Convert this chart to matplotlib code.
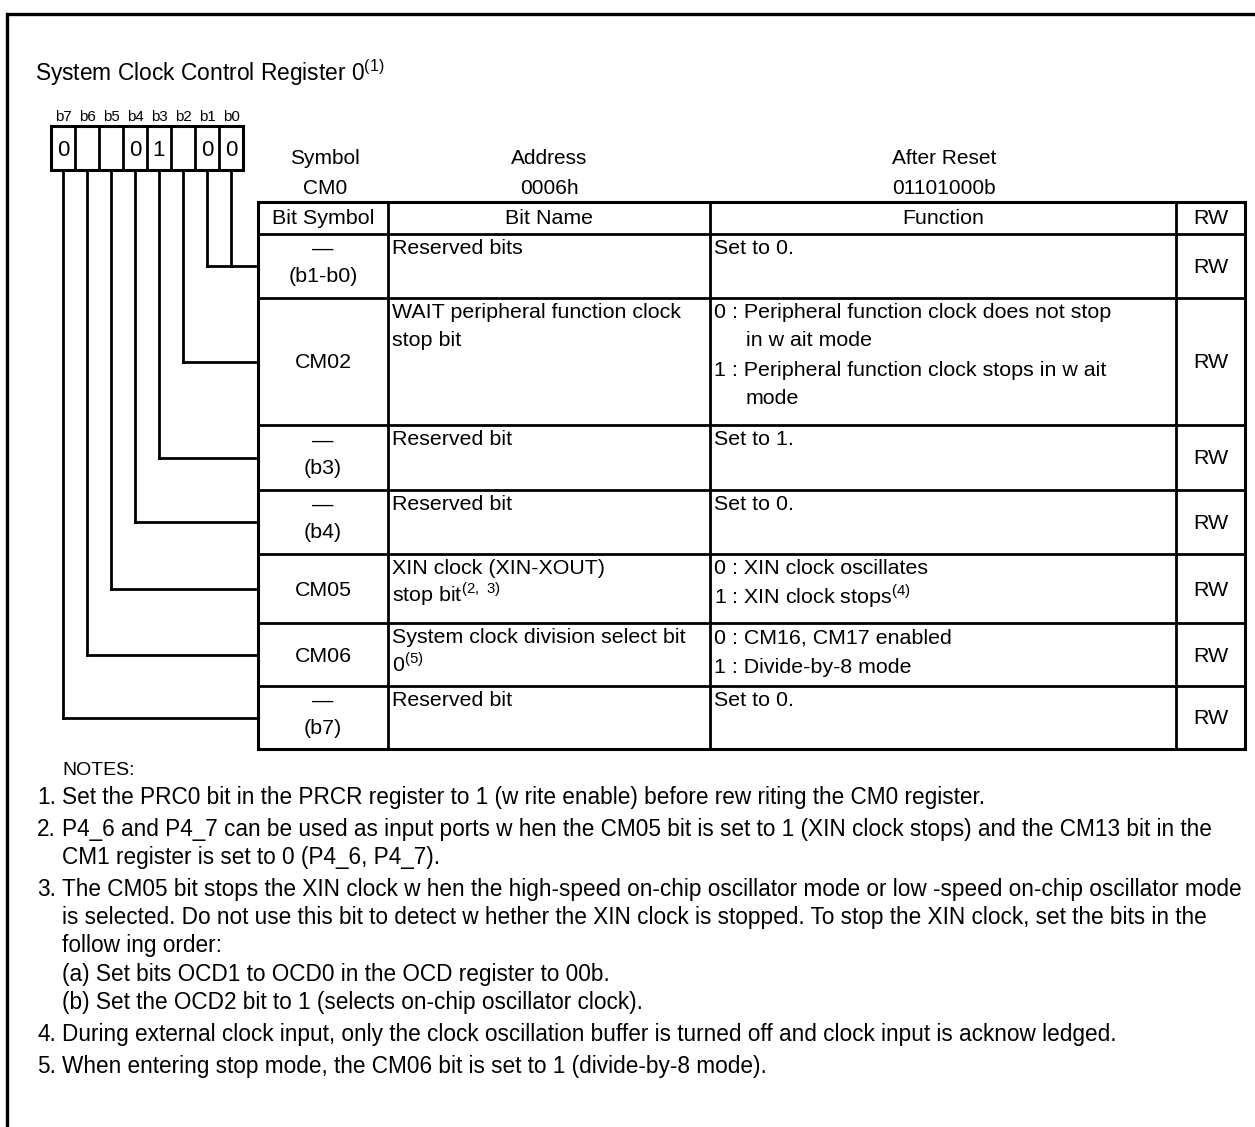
import matplotlib
matplotlib.use("Agg")
import matplotlib.pyplot as plt
from matplotlib.patches import Rectangle

plt.rcParams['font.family'] = ['Liberation Sans', 'DejaVu Sans']
plt.rcParams['mathtext.fontset'] = 'custom'
plt.rcParams['mathtext.rm'] = 'Liberation Sans'

# ---------------- content ----------------
title = "System Clock Control Register 0$^{\\mathregular{(1)}}$"
bit_labels = ["b7", "b6", "b5", "b4", "b3", "b2", "b1", "b0"]
bit_values = ["0", "", "", "0", "1", "", "0", "0"]

info_heads = ["Symbol", "Address", "After Reset"]
info_values = ["CM0", "0006h", "01101000b"]

col_heads = ["Bit Symbol", "Bit Name", "Function", "RW"]

row_symbols = [["\u2014", "(b1-b0)"], ["CM02"], ["\u2014", "(b3)"], ["\u2014", "(b4)"],
               ["CM05"], ["CM06"], ["\u2014", "(b7)"]]
row_names = [["Reserved bits"],
             ["WAIT peripheral function clock", "stop bit"],
             ["Reserved bit"],
             ["Reserved bit"],
             ["XIN clock (XIN-XOUT)", "stop bit$^{\\mathregular{(2,\\ 3)}}$"],
             ["System clock division select bit", "0$^{\\mathregular{(5)}}$"],
             ["Reserved bit"]]
row_functions = [[("", ["Set to 0."])],
                 [("0 : ", ["Peripheral function clock does not stop", "in w ait mode"]),
                  ("1 : ", ["Peripheral function clock stops in w ait", "mode"])],
                 [("", ["Set to 1."])],
                 [("", ["Set to 0."])],
                 [("0 : ", ["XIN clock oscillates"]),
                  ("1 : ", ["XIN clock stops$^{\\mathregular{(4)}}$"])],
                 [("0 : ", ["CM16, CM17 enabled"]),
                  ("1 : ", ["Divide-by-8 mode"])],
                 [("", ["Set to 0."])]]
row_rw = ["RW", "RW", "RW", "RW", "RW", "RW", "RW"]
# bit positions (index into bit_labels) wired to each table row
row_bits = [[6, 7], [5], [4], [3], [2], [1], [0]]

notes_head = "NOTES:"
notes = [
    ("1.", ["Set the PRC0 bit in the PRCR register to 1 (w rite enable) before rew riting the CM0 register."]),
    ("2.", ["P4_6 and P4_7 can be used as input ports w hen the CM05 bit is set to 1 (XIN clock stops) and the CM13 bit in the",
            "CM1 register is set to 0 (P4_6, P4_7)."]),
    ("3.", ["The CM05 bit stops the XIN clock w hen the high-speed on-chip oscillator mode or low -speed on-chip oscillator mode",
            "is selected. Do not use this bit to detect w hether the XIN clock is stopped. To stop the XIN clock, set the bits in the",
            "follow ing order:",
            "(a) Set bits OCD1 to OCD0 in the OCD register to 00b.",
            "(b) Set the OCD2 bit to 1 (selects on-chip oscillator clock)."]),
    ("4.", ["During external clock input, only the clock oscillation buffer is turned off and clock input is acknow ledged."]),
    ("5.", ["When entering stop mode, the CM06 bit is set to 1 (divide-by-8 mode)."]),
]

# ---------------- layout ----------------
W, H = 1255, 1127
LW = 2.2
TS = 15.4   # table text size
NS = 16.3   # notes text size
fig = plt.figure(figsize=(W / 100, H / 100), dpi=100)
ax = fig.add_axes([0, 0, 1, 1])
ax.set_xlim(0, W)
ax.set_ylim(H, 0)
ax.axis('off')

def line(xs, ys, lw=LW):
    ax.plot(xs, ys, color='black', lw=lw, solid_capstyle='projecting', solid_joinstyle='miter')

def txt(x, y, s, size=TS, ha='left'):
    ax.text(x, y, s, fontsize=size, ha=ha, va='baseline', color='black')

# outer frame (open at right and bottom)
line([7, 7, W + 5], [H + 5, 14, 14], lw=2.4)

txt(35, 81, title, size=16.4)

# bit boxes
bx0, bw, by0, by1 = 51, 24, 126, 170
for i, (lab, val) in enumerate(zip(bit_labels, bit_values)):
    cx = bx0 + bw * i + bw / 2
    txt(cx, 121, lab, size=10.8, ha='center')
    if val:
        txt(cx, 156, val, size=16, ha='center')
ax.add_patch(Rectangle((bx0, by0), bw * 8, by1 - by0, fill=False, lw=LW, joinstyle='miter'))
for i in range(1, 8):
    line([bx0 + bw * i] * 2, [by0, by1], lw=2.0)

# register info
info_x = [325, 549, 944]
for x, h_, v in zip(info_x, info_heads, info_values):
    txt(x, 164, h_, size=15, ha='center')
    txt(x, 194, v, size=15, ha='center')

# table
cols = [258, 388, 710, 1176, 1245]
rows = [202, 234, 298, 425, 490, 554, 623, 686, 749]
ax.add_patch(Rectangle((cols[0], rows[0]), cols[-1] - cols[0], rows[-1] - rows[0],
                       fill=False, lw=LW, joinstyle='miter'))
for x in cols[1:-1]:
    line([x, x], [rows[0], rows[-1]], lw=2.0)
for y in rows[1:-1]:
    line([cols[0], cols[-1]], [y, y], lw=2.0)

for j, hd in enumerate(col_heads):
    txt((cols[j] + cols[j + 1]) / 2, 224, hd, ha='center')

LS = 28
for r in range(len(row_symbols)):
    top, bot = rows[r + 1], rows[r + 2]
    mid = (top + bot) / 2
    sym = row_symbols[r]
    if len(sym) == 1:
        txt((cols[0] + cols[1]) / 2, mid + 7, sym[0], ha='center')
    else:
        txt((cols[0] + cols[1]) / 2, mid - 11, sym[0], ha='center')
        txt((cols[0] + cols[1]) / 2, mid + 16, sym[1], ha='center')
    for k, s in enumerate(row_names[r]):
        txt(cols[1] + 4, top + 20 + LS * k, s)
    y = top + 20
    for prefix, lines_ in row_functions[r]:
        for k, s in enumerate(lines_):
            if k == 0:
                txt(cols[2] + 4, y, prefix + s)
            else:
                txt(cols[2] + 36, y, s)
            y += LS
        y += 2
    txt((cols[3] + cols[4]) / 2, mid + 7, row_rw[r], ha='center')

    # connector from bit box down to this row
    xs = [bx0 + bw * b + bw / 2 for b in row_bits[r]]
    for x in xs:
        line([x, x], [by1, mid], lw=2.0)
    line([min(xs), cols[0]], [mid, mid], lw=2.0)

# notes
txt(62, 775, notes_head, size=14)
y = 804
for num, lines_ in notes:
    txt(37, y, num, size=NS)
    for s in lines_:
        txt(62, y, s, size=NS)
        y += 28.3
    y += 3.5

fig.savefig("out.png", dpi=100)
